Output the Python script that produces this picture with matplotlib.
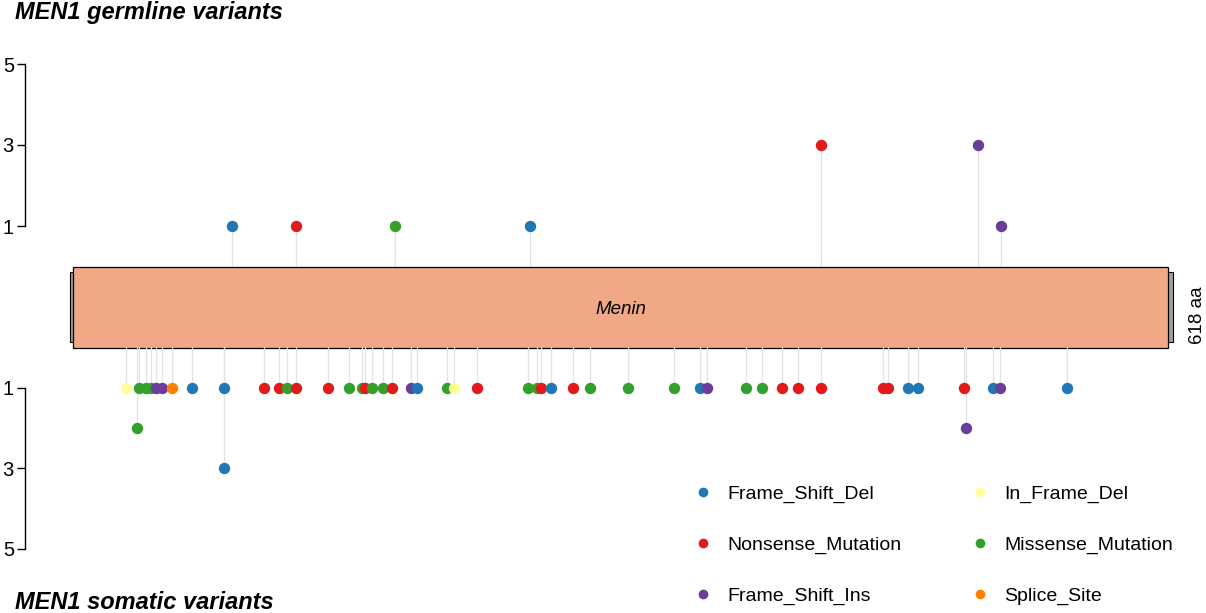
import matplotlib

matplotlib.use("Agg")
import matplotlib.pyplot as plt
from matplotlib.lines import Line2D
from matplotlib.patches import Rectangle

plt.rcParams["font.family"] = ["Liberation Sans", "DejaVu Sans"]

PROTEIN = "Menin"
PROTEIN_LEN = 618

COLORS = {
    "Frame_Shift_Del": "#1F78B4",
    "In_Frame_Del": "#FFFF99",
    "Nonsense_Mutation": "#E31A1C",
    "Missense_Mutation": "#33A02C",
    "Frame_Shift_Ins": "#6A3D9A",
    "Splice_Site": "#FF7F00",
}
LEGEND_ORDER = ["Frame_Shift_Del", "Nonsense_Mutation", "Frame_Shift_Ins",
                "In_Frame_Del", "Missense_Mutation", "Splice_Site"]

# germline variants (top)
GERM_POS = [90, 126, 182, 258, 422, 511, 524]
GERM_TYPE = ["Frame_Shift_Del", "Nonsense_Mutation", "Missense_Mutation",
             "Frame_Shift_Del", "Nonsense_Mutation", "Frame_Shift_Ins",
             "Frame_Shift_Ins"]
GERM_COUNT = [1, 1, 1, 1, 3, 3, 1]

# somatic variants (bottom)
SOM_POS = [30, 36, 37, 41, 44, 47, 50, 56, 67, 85, 85,
           108, 116, 121, 126, 144, 156, 163, 165, 169, 175, 180,
           191, 194, 211, 215, 228, 257, 262, 264, 270, 282, 292,
           313, 339, 354, 358, 380, 389, 400, 409, 422, 457, 460,
           471, 477, 503, 504, 519, 523, 561]
SOM_TYPE = ["In_Frame_Del", "Missense_Mutation", "Missense_Mutation",
            "Missense_Mutation", "Missense_Mutation", "Frame_Shift_Ins",
            "Frame_Shift_Ins", "Splice_Site", "Frame_Shift_Del",
            "Frame_Shift_Del", "Frame_Shift_Del",
            "Nonsense_Mutation", "Nonsense_Mutation", "Missense_Mutation",
            "Nonsense_Mutation", "Nonsense_Mutation", "Missense_Mutation",
            "Missense_Mutation", "Nonsense_Mutation", "Missense_Mutation",
            "Missense_Mutation", "Nonsense_Mutation",
            "Frame_Shift_Ins", "Frame_Shift_Del", "Missense_Mutation",
            "In_Frame_Del", "Nonsense_Mutation", "Missense_Mutation",
            "Missense_Mutation", "Nonsense_Mutation", "Frame_Shift_Del",
            "Nonsense_Mutation", "Missense_Mutation",
            "Missense_Mutation", "Missense_Mutation", "Frame_Shift_Del",
            "Frame_Shift_Ins", "Missense_Mutation", "Missense_Mutation",
            "Nonsense_Mutation", "Nonsense_Mutation", "Nonsense_Mutation",
            "Nonsense_Mutation", "Nonsense_Mutation",
            "Frame_Shift_Del", "Frame_Shift_Del", "Nonsense_Mutation",
            "Frame_Shift_Ins", "Frame_Shift_Del", "Frame_Shift_Ins",
            "Frame_Shift_Del"]
SOM_COUNT = [1, 2, 1, 1, 1, 1, 1, 1, 1, 1, 3,
             1, 1, 1, 1, 1, 1, 1, 1, 1, 1, 1,
             1, 1, 1, 1, 1, 1, 1, 1, 1, 1, 1,
             1, 1, 1, 1, 1, 1, 1, 1, 1, 1, 1,
             1, 1, 1, 2, 1, 1, 1]

Y_TICKS = [1, 3, 5]

W, H = 1206, 613
fig = plt.figure(figsize=(W / 100, H / 100), dpi=100)

# pixel -> amino acid mapping: box spans 0..618 over pixels 73..1168
scale = PROTEIN_LEN / 1095
xlim = ((25 - 73) * scale, (1180 - 73) * scale)

ax_top = fig.add_axes([25 / W, (H - 307) / H, (1180 - 25) / W, 287 / H])
ax_bot = fig.add_axes([25 / W, (H - 600) / H, (1180 - 25) / W, 293 / H])
ax_top.set_ylim(-1, 287 / 40.5 - 1)
ax_bot.set_ylim(293 / 40.25 - 1, -1)

for ax, pos, typ, cnt in [(ax_top, GERM_POS, GERM_TYPE, GERM_COUNT),
                          (ax_bot, SOM_POS, SOM_TYPE, SOM_COUNT)]:
    ax.set_xlim(*xlim)
    ax.patch.set_alpha(0)
    for s in ["top", "right", "bottom"]:
        ax.spines[s].set_visible(False)
    ax.spines["left"].set_bounds(1, 5)
    ax.spines["left"].set_linewidth(1.0)
    ax.set_yticks(Y_TICKS)
    ax.set_yticklabels([str(t) for t in Y_TICKS])
    ax.tick_params(axis="y", length=6, width=1.0, labelsize=14.5, pad=2)
    ax.set_xticks([])
    for p, c in zip(pos, cnt):
        ax.plot([p, p], [0, c], color="#E3E3E3", lw=0.9, zorder=1)
    for p, t, c in zip(pos, typ, cnt):
        ax.plot(p, c, "o", color=COLORS[t], markersize=8.2,
                markeredgewidth=0, zorder=3)

# protein backbone and domain
ax_top.add_patch(Rectangle((-1.7, -1 - 35 / 40.5), PROTEIN_LEN + 4.5, 70 / 40.5,
                           facecolor="#9E9E9E", edgecolor="black", lw=0.8,
                           clip_on=False, zorder=4))
ax_top.add_patch(Rectangle((0, -2), PROTEIN_LEN, 2,
                           facecolor="#F1A886", edgecolor="black", lw=0.9,
                           clip_on=False, zorder=5))
ax_top.text(PROTEIN_LEN / 2, -1.05, PROTEIN, ha="center", va="center",
            fontsize=13.5, style="italic", zorder=6)
ax_top.text((1197 - 73) * scale, -1.2, f"{PROTEIN_LEN} aa", rotation=90,
            ha="center", va="center", fontsize=13.5)

fig.text(15 / W, 1 - 18.5 / H, "MEN1 germline variants", fontsize=17,
         fontweight="bold", style="italic", ha="left", va="baseline")
fig.text(15 / W, 1 - 609 / H, "MEN1 somatic variants", fontsize=17,
         fontweight="bold", style="italic", ha="left", va="baseline")

handles = [Line2D([], [], marker="o", ls="", color=COLORS[k], markersize=7,
                  markeredgewidth=0) for k in LEGEND_ORDER]
fig.legend(handles, LEGEND_ORDER, ncol=2, frameon=False, fontsize=14,
           loc="upper left", bbox_to_anchor=(693.5 / W, 1 - 485 / H),
           labelspacing=1.71, columnspacing=3.55, handletextpad=0.74,
           handlelength=1.0, borderaxespad=0, borderpad=0)

fig.savefig("out.png", dpi=100)
